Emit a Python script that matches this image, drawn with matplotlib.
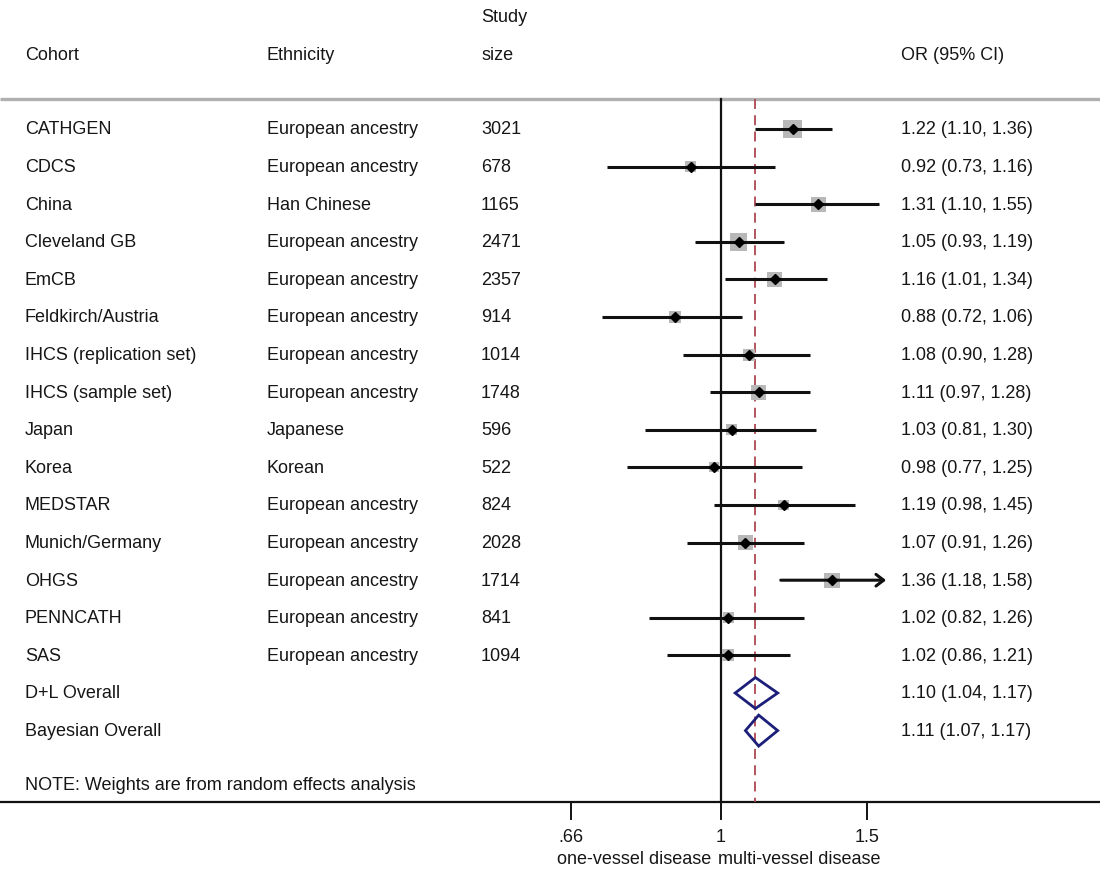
import numpy as np
import matplotlib
matplotlib.use("Agg")
import matplotlib.pyplot as plt
from matplotlib import transforms

plt.rcParams['font.family'] = ['Liberation Sans', 'DejaVu Sans']

# ---- data ----
cohorts = ["CATHGEN", "CDCS", "China", "Cleveland GB", "EmCB", "Feldkirch/Austria",
           "IHCS (replication set)", "IHCS (sample set)", "Japan", "Korea", "MEDSTAR",
           "Munich/Germany", "OHGS", "PENNCATH", "SAS"]
ethnicity = ["European ancestry", "European ancestry", "Han Chinese", "European ancestry",
             "European ancestry", "European ancestry", "European ancestry", "European ancestry",
             "Japanese", "Korean", "European ancestry", "European ancestry", "European ancestry",
             "European ancestry", "European ancestry"]
study_size = [3021, 678, 1165, 2471, 2357, 914, 1014, 1748, 596, 522, 824, 2028, 1714, 841, 1094]
odds_ratio = [1.22, 0.92, 1.31, 1.05, 1.16, 0.88, 1.08, 1.11, 1.03, 0.98, 1.19, 1.07, 1.36, 1.02, 1.02]
ci_low = [1.10, 0.73, 1.10, 0.93, 1.01, 0.72, 0.90, 0.97, 0.81, 0.77, 0.98, 0.91, 1.18, 0.82, 0.86]
ci_high = [1.36, 1.16, 1.55, 1.19, 1.34, 1.06, 1.28, 1.28, 1.30, 1.25, 1.45, 1.26, 1.58, 1.26, 1.21]
weight_pct = [12.3, 4.3, 8.4, 10.9, 8.4, 5.2, 5.2, 8.4, 4.3, 3.5, 4.3, 7.2, 8.4, 4.3, 5.2]

pooled_labels = ["D+L Overall", "Bayesian Overall"]
pooled_or = [1.10, 1.11]
pooled_low = [1.04, 1.07]
pooled_high = [1.17, 1.17]

tick_values = [0.66, 1.0, 1.5]
tick_labels = [".66", "1", "1.5"]
favours = ["one-vessel disease", "multi-vessel disease"]
note = "NOTE: Weights are from random effects analysis"
axis_max = 1.58  # CIs reaching this end in an arrow

# ---- layout ----
W, H = 1100, 878
fig = plt.figure(figsize=(W / 100, H / 100), dpi=100)
ax = fig.add_axes([0, 0, 1, 1])
ax.set_xscale('log')
px_per_log = 361.0
x_one = 721.0
ax.set_xlim(np.exp(-x_one / px_per_log), np.exp((W - x_one) / px_per_log))
ax.set_ylim(H, 0)
ax.axis('off')

txt = '#161616'
fs = 13
colx = transforms.blended_transform_factory(ax.transAxes, ax.transData)

def col(px):
    return px / W

row0, step = 130.0, 37.6
n = len(cohorts)
rows = row0 + step * np.arange(n)
prow = row0 + step * (n + np.arange(len(pooled_labels)))
top_line, bottom_line = 100, 803

# header
ax.text(col(481), 18, "Study", transform=colx, fontsize=fs, color=txt, va='center')
for x, s in [(25, "Cohort"), (267, "Ethnicity"), (481, "size"), (901, "OR (95% CI)")]:
    ax.text(col(x), 56, s, transform=colx, fontsize=fs, color=txt, va='center')

# separators
ax.plot([0, 1], [top_line, top_line], transform=colx, color='#b0b0b0', lw=2.4,
        solid_capstyle='butt')
ax.plot([0, 1], [bottom_line, bottom_line], transform=colx, color='#111111', lw=1.6,
        solid_capstyle='butt')

# reference lines
ax.plot([1, 1], [top_line, bottom_line], color='#111111', lw=1.6, zorder=2)
ax.plot([pooled_or[0]] * 2, [top_line, bottom_line], color='#ad4652', lw=1.3,
        dashes=(5.5, 3.5), zorder=2)

# study rows
k = 5.3 / 1.389  # box side in points per sqrt(weight)
for i in range(n):
    y = rows[i]
    ax.text(col(25), y, cohorts[i], transform=colx, fontsize=fs, color=txt, va='center')
    ax.text(col(267), y, ethnicity[i], transform=colx, fontsize=fs, color=txt, va='center')
    ax.text(col(481), y, str(study_size[i]), transform=colx, fontsize=fs, color=txt, va='center')
    ax.text(col(901), y, f"{odds_ratio[i]:.2f} ({ci_low[i]:.2f}, {ci_high[i]:.2f})",
            transform=colx, fontsize=fs, color=txt, va='center')
    ax.scatter([odds_ratio[i]], [y], marker='s', s=(k * np.sqrt(weight_pct[i])) ** 2,
               color='#b8b8b8', edgecolors='none', zorder=3)
    if ci_high[i] >= axis_max:
        ax.annotate("", xy=(ci_high[i], y), xytext=(ci_low[i], y),
                    arrowprops=dict(arrowstyle='->,head_length=0.55,head_width=0.42',
                                    color='#111111', lw=2.2, shrinkA=0, shrinkB=0),
                    zorder=4)
    else:
        ax.plot([ci_low[i], ci_high[i]], [y, y], color='#111111', lw=2.2,
                solid_capstyle='butt', zorder=4)
    ax.plot([odds_ratio[i]], [y], marker='D', ms=5.2, color='#000000', zorder=5)

# pooled estimates
for j, lab in enumerate(pooled_labels):
    y = prow[j]
    ax.text(col(25), y, lab, transform=colx, fontsize=fs, color=txt, va='center')
    ax.text(col(901), y, f"{pooled_or[j]:.2f} ({pooled_low[j]:.2f}, {pooled_high[j]:.2f})",
            transform=colx, fontsize=fs, color=txt, va='center')
    h = 15.5
    ax.fill([pooled_low[j], pooled_or[j], pooled_high[j], pooled_or[j], pooled_low[j]],
            [y, y - h, y, y + h, y], facecolor='none', edgecolor='#1c1f7a', lw=2.0,
            joinstyle='miter', zorder=4)

ax.text(col(25), 786, note, transform=colx, fontsize=fs, color=txt, va='center')

# x axis ticks and labels
for v, lab in zip(tick_values, tick_labels):
    ax.plot([v, v], [bottom_line, bottom_line + 17], color='#111111', lw=1.4)
    ax.text(v, 838, lab, fontsize=fs, color=txt, ha='center', va='center')
ax.annotate(favours[0], xy=(1, 860), xytext=(-10, 0), textcoords='offset pixels',
            fontsize=fs, color=txt, ha='right', va='center')
ax.annotate(favours[1], xy=(1, 860), xytext=(-3, 0), textcoords='offset pixels',
            fontsize=fs, color=txt, ha='left', va='center')

fig.savefig("out.png", dpi=100, facecolor='white')
